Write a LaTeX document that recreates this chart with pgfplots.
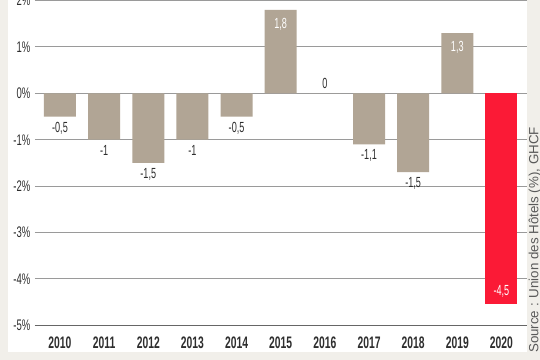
\documentclass[border=0pt]{standalone}
\usepackage{pgfplots}
\pgfplotsset{compat=1.18}
\usepackage{fontspec}
\setmainfont{Liberation Sans}[FakeStretch=0.62]
\newfontfamily\srcfont{Liberation Sans}
\definecolor{barc}{HTML}{B1A595}
\definecolor{redc}{HTML}{FB1A36}
\definecolor{bgc}{HTML}{F1EFEA}
\definecolor{gridc}{HTML}{9A9A9A}
\definecolor{txt}{HTML}{2E2E2E}
\begin{document}
\begin{tikzpicture}
\useasboundingbox (-26.25pt,-26pt) rectangle (378.75pt,244pt);
\clip (-26.25pt,-26pt) rectangle (378.75pt,244pt);
\fill[bgc] (-26.25pt,-26pt) rectangle (378.75pt,244pt);
\fill[white] (-20.25pt,-20pt) rectangle (369pt,244pt);
\begin{axis}[
  at={(0,0)}, anchor=south west,
  x=33.11pt, y=34.8pt,
  xmin=-0.566, xmax=10.58, ymin=-5, ymax=2,
  ybar, bar width=24pt, bar shift=0pt,
  axis line style={draw=none},
  tick style={draw=none},
  ymajorgrids, grid style={gridc, line width=0.8pt},
  ytick={-5,-4,-3,-2,-1,0,1,2},
  yticklabels={-5\%,-4\%,-3\%,-2\%,-1\%,0\%,1\%,2\%},
  xtick={0,1,2,3,4,5,6,7,8,9,10},
  xticklabels={2010,2011,2012,2013,2014,2015,2016,2017,2018,2019,2020},
  yticklabel style={font=\fontsize{11.5pt}{13pt}\selectfont, text=txt},
  xticklabel style={font=\bfseries\fontsize{12.5pt}{14pt}\selectfont, text=txt, yshift=-1pt},
  nodes near coords style={font=\fontsize{11pt}{13pt}\selectfont, text=txt},
  clip=false,
]
\draw[color=gray!80!black, line width=1.2pt] (rel axis cs:0,0) -- (rel axis cs:1,0);
\addplot[fill=barc, draw=none, point meta=explicit symbolic, nodes near coords,
  every node near coord/.append style={anchor=north, yshift=-0.5pt}]
  coordinates {(0,-0.5)[-0,5] (1,-1)[-1] (2,-1.5)[-1,5] (3,-1)[-1] (4,-0.5)[-0,5] (7,-1.1)[-1,1] (8,-1.7)[-1,5]};
\addplot[fill=barc, draw=none, point meta=explicit symbolic, nodes near coords,
  every node near coord/.append style={anchor=north, yshift=-3pt, text=white}]
  coordinates {(5,1.8)[1,8] (9,1.3)[1,3]};
\addplot[fill=barc, draw=none, point meta=explicit symbolic, nodes near coords,
  every node near coord/.append style={anchor=south}]
  coordinates {(6,0)[0]};
\addplot[fill=redc, draw=none, point meta=explicit symbolic, nodes near coords,
  every node near coord/.append style={anchor=south, yshift=2pt, text=white}]
  coordinates {(10,-4.55)[-4,5]};
\end{axis}
\node[rotate=90, text=gray!70!black, font=\srcfont\fontsize{10pt}{12pt}\selectfont] at (375pt,64pt) {Source : Union des H\^otels (\%), GHCF};
\end{tikzpicture}
\end{document}
